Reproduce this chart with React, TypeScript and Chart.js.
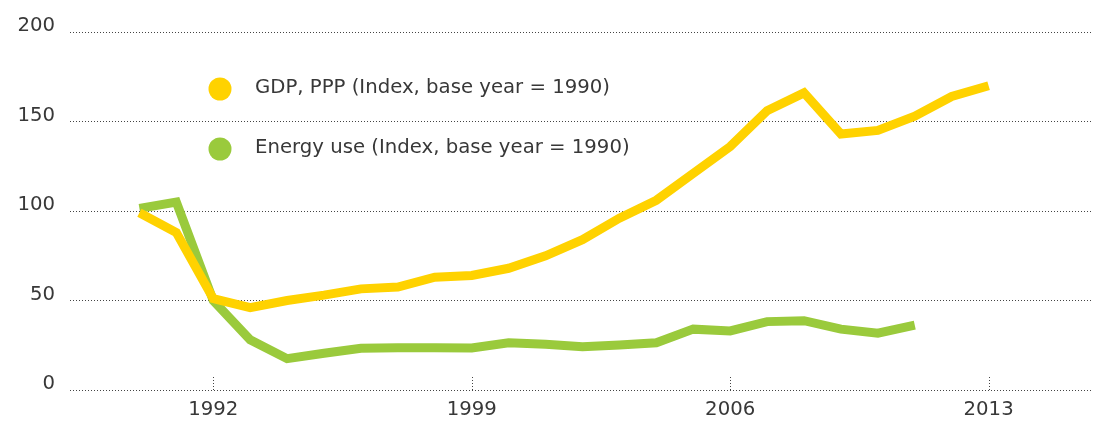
import React, { useEffect, useRef } from "react";
import { Chart, registerables } from "chart.js";

Chart.register(...registerables);

const years = [1990, 1991, 1992, 1993, 1994, 1995, 1996, 1997, 1998, 1999, 2000, 2001, 2002, 2003, 2004, 2005, 2006, 2007, 2008, 2009, 2010, 2011, 2012, 2013];
const gdpValues = [99, 88, 51, 46, 50, 53, 56.5, 57.5, 63, 64, 68, 75, 84, 96, 106, 121, 136, 156, 166, 143, 145, 153, 164, 170];
const energyValues = [101.5, 105, 50, 28, 17.5, 20.5, 23.3, 23.6, 23.6, 23.5, 26.4, 25.5, 24.2, 25.1, 26.4, 34, 33, 38.2, 38.7, 34, 31.7, 36.3];
const tickYears = [1992, 1999, 2006, 2013];
const yTicks = [0, 50, 100, 150, 200];
const seriesLabels = ["GDP, PPP (Index, base year = 1990)", "Energy use (Index, base year = 1990)"];
const seriesColors = ["#FFD200", "#9ACA3C"];

const FONT = "'DejaVu Sans', sans-serif";
const FONT_SIZE = 19.7;
const TEXT_COLOR = "#383838";
const GRID_COLOR = "#444";

const tickMarksPlugin = {
  id: "tickMarks",
  beforeDatasetsDraw(chart: any) {
    const { ctx, chartArea, scales } = chart;
    const xs = scales.x;
    ctx.save();
    ctx.strokeStyle = GRID_COLOR;
    ctx.lineWidth = 1;
    ctx.setLineDash([1, 2]);
    xs.ticks.forEach((t: any) => {
      const px = Math.round(xs.getPixelForValue(t.value)) + 0.5;
      ctx.beginPath();
      ctx.moveTo(px, chartArea.bottom);
      ctx.lineTo(px, chartArea.bottom - 14);
      ctx.stroke();
    });
    ctx.restore();
  },
};

const legendPlugin = {
  id: "innerLegend",
  afterDraw(chart: any) {
    const { ctx, chartArea } = chart;
    ctx.save();
    chart.data.datasets.forEach((ds: any, i: number) => {
      const cy = chartArea.top + 57 + i * 60;
      const cx = chartArea.left + 150;
      ctx.fillStyle = ds.borderColor;
      ctx.beginPath();
      ctx.arc(cx, cy, 11.5, 0, Math.PI * 2);
      ctx.fill();
      ctx.fillStyle = TEXT_COLOR;
      ctx.font = `${FONT_SIZE}px ${FONT}`;
      ctx.textBaseline = "middle";
      ctx.textAlign = "left";
      ctx.fillText(ds.label, cx + 35, cy - 1);
    });
    ctx.restore();
  },
};

export default function App() {
  const canvasRef = useRef<HTMLCanvasElement | null>(null);

  useEffect(() => {
    if (!canvasRef.current) return;
    const chart = new Chart(canvasRef.current, {
      type: "line",
      data: {
        datasets: [
          {
            label: seriesLabels[0],
            data: gdpValues.map((v, i) => ({ x: years[i], y: v })),
            borderColor: seriesColors[0],
            backgroundColor: seriesColors[0],
            borderWidth: 9,
            pointRadius: 0,
            tension: 0,
            borderJoinStyle: "miter",
            borderCapStyle: "butt",
          },
          {
            label: seriesLabels[1],
            data: energyValues.map((v, i) => ({ x: years[i], y: v })),
            borderColor: seriesColors[1],
            backgroundColor: seriesColors[1],
            borderWidth: 9,
            pointRadius: 0,
            tension: 0,
            borderJoinStyle: "miter",
            borderCapStyle: "butt",
          },
        ],
      },
      options: {
        animation: false,
        responsive: true,
        maintainAspectRatio: false,
        layout: { padding: { left: 0, right: 7, top: 32, bottom: 0 } },
        plugins: { legend: { display: false }, tooltip: { enabled: false } },
        scales: {
          x: {
            type: "linear",
            min: 1988.12,
            max: 2015.8,
            grid: { display: false },
            border: { display: false },
            afterBuildTicks: (scale: any) => {
              scale.ticks = tickYears.map((v) => ({ value: v }));
            },
            afterFit: (scale: any) => {
              scale.height = 39;
            },
            ticks: {
              font: { family: FONT, size: FONT_SIZE },
              color: TEXT_COLOR,
              padding: 0,
              maxRotation: 0,
              autoSkip: false,
              callback: (v: any) => String(v),
            },
          },
          y: {
            min: 0,
            max: 200,
            afterBuildTicks: (scale: any) => {
              scale.ticks = yTicks.map((v) => ({ value: v }));
            },
            afterFit: (scale: any) => {
              scale.width = 70;
            },
            grid: { color: GRID_COLOR, lineWidth: 1, drawTicks: false },
            border: { display: false, dash: [1, 2] },
            ticks: {
              font: { family: FONT, size: FONT_SIZE },
              color: TEXT_COLOR,
              padding: 15,
              labelOffset: -6,
            },
          },
        },
      },
      plugins: [tickMarksPlugin, legendPlugin],
    });
    return () => chart.destroy();
  }, []);

  return (
    <div style={{ position: "fixed", left: 0, top: 0, width: 1099, height: 429, background: "#fff" }}>
      <canvas ref={canvasRef} />
    </div>
  );
}
